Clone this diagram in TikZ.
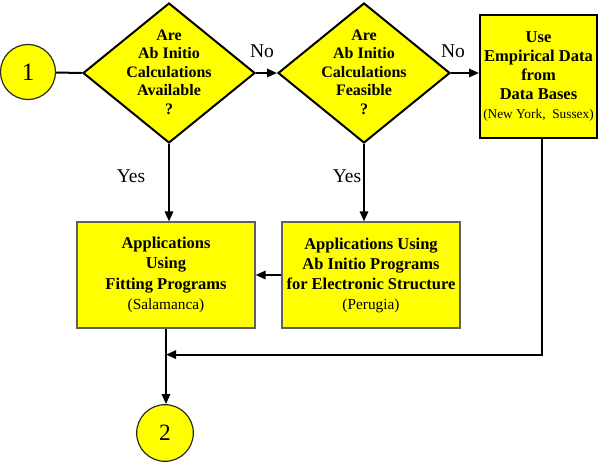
\documentclass[tikz,border=0pt]{standalone}
\usepackage{fontspec}
\setmainfont{Liberation Serif}
\usetikzlibrary{positioning,arrows.meta,calc,shapes.geometric}
\definecolor{chartyel}{RGB}{255,255,0}
\definecolor{rimgray}{RGB}{95,95,95}
\newcommand{\sitename}[2][9.2]{{\mdseries\fontsize{#1}{12}\selectfont(#2)}}

\begin{document}
\begin{tikzpicture}[x=0.6pt,y=-0.6pt,
  conn/.style={line width=1.2pt,-{Triangle[length=6pt,width=5pt]}},
  plainline/.style={line width=1.2pt},
  decision/.style={diamond,draw,fill=chartyel,line width=1.2pt,inner sep=0pt,
    minimum width=103.2pt,minimum height=84pt},
  qtext/.style={align=center,inner sep=0pt,font=\fontsize{9.6}{11.1}\selectfont\bfseries},
  procbox/.style={draw=rimgray,fill=chartyel,line width=0.7pt,inner sep=1pt,
    minimum width=106.8pt,minimum height=63.6pt,align=center,
    font=\fontsize{9.9}{12.3}\selectfont\bfseries},
  joint/.style={circle,draw=black!85,fill=chartyel,line width=0.7pt,inner sep=0pt,
    minimum size=33pt,font=\fontsize{15}{15}\selectfont},
  answer/.style={inner sep=0pt,font=\fontsize{11.7}{12}\selectfont}]
\useasboundingbox (0,0) rectangle (598,464);
% top row: start, two questions, data bases
\node[joint] (c1) at (28,72) {1};
\node[decision] (q1) at (169,73) {};
\node[qtext] (q1t) at (169,72) {Are\\Ab Initio\\Calculations\\Available\\?};
\node[decision] (q2) at (364,73) {};
\node[qtext] (q2t) at (364,72) {Are\\Ab Initio\\Calculations\\Feasible\\?};
\node[procbox,draw=black,line width=1.2pt,minimum width=70.2pt,minimum height=73.8pt,
  font=\fontsize{9.9}{11.3}\selectfont\bfseries] (emp) at (538.5,76.5)
  {Use\\Empirical Data\\from\\Data Bases\\\sitename[8]{New York,\ \ Sussex}};
% second row: the two program boxes
\node[procbox] (fit) at (166,275) {Applications\\Using\\Fitting Programs\\\sitename{Salamanca}};
\node[procbox,font=\fontsize{9.9}{12}\selectfont\bfseries] (abin) at (371,275)
  {Applications Using\\Ab Initio Programs\\for Electronic Structure\\\sitename{Perugia}};
% end
\node[joint,minimum size=34pt,font=\fontsize{14}{14}\selectfont] (c2) at (165,433) {2};
\node[answer] (no1) at (262,51) {No};
\node[answer] (no2) at (453,51) {No};
\node[answer] (yes1) at (131,176) {Yes};
\node[answer] (yes2) at (347,176) {Yes};
\coordinate (mrg) at ($(fit.south)+(0,26)$);
\draw[plainline] (c1) -- (q1.west);
\draw[conn] (q1.east) -- (q2.west);
\draw[conn] (q2.east) -- (q2.east -| emp.west);
\draw[conn] (q1.south) -- (q1.south |- fit.north);
\draw[conn] (q2.south) -- (q2.south |- abin.north);
\draw[conn] (abin.west) -- (fit.east);
\draw[conn] (fit.south) -- (fit.south |- c2.north);
\draw[conn] ([xshift=2pt]emp.south) |- (mrg);
\end{tikzpicture}
\end{document}
